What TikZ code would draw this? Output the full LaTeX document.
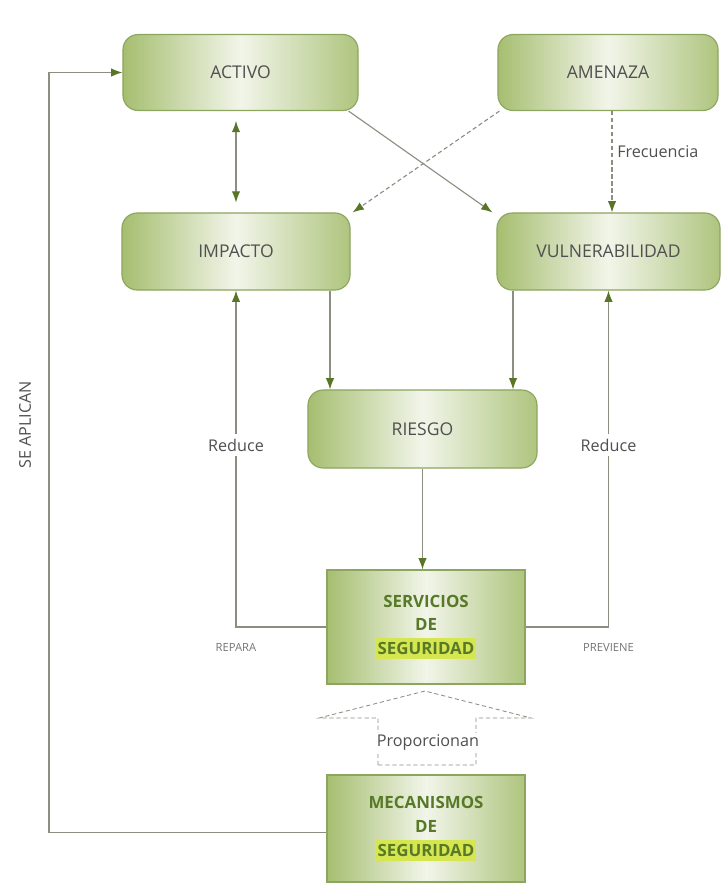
\documentclass[tikz,border=0pt]{standalone}
\usepackage{fontspec}
\setmainfont{Open Sans}
\usepackage{tikz}
\usetikzlibrary{arrows.meta}

\definecolor{boxg}{RGB}{166,190,112}
\definecolor{boxline}{RGB}{140,165,95}
\definecolor{tipg}{RGB}{88,118,38}
\definecolor{lineg}{RGB}{140,142,128}
\definecolor{txtg}{RGB}{80,80,80}
\definecolor{segg}{RGB}{88,122,40}
\definecolor{marca}{RGB}{214,230,80}

\tikzset{
  caja/.style={draw=boxline, line width=0.8pt, rounded corners=0.38cm,
    left color=boxg, right color=boxg!90, middle color=white!85!boxg,
    text=txtg, font=\fontsize{12.5}{15}\selectfont, minimum height=1.9cm},
  servicio/.style={draw=boxline, line width=0.8pt,
    left color=boxg, right color=boxg!90, middle color=white!85!boxg,
    text=segg, font=\fontsize{12}{17}\selectfont\bfseries, align=center,
    minimum width=4.95cm},
  flecha/.style={draw=lineg, line width=0.8pt, -{Latex[length=8pt,width=6pt,color=tipg]}},
  punteada/.style={flecha, densely dashed},
  rotulo/.style={text=txtg, font=\fontsize{11.5}{13}\selectfont},
  chico/.style={text=txtg!80, font=\fontsize{8}{9}\selectfont}
}
\newcommand{\resalta}[1]{\colorbox{marca}{\kern-2pt #1\kern-2pt}}

\begin{document}
\begin{tikzpicture}[x=0.025cm, y=-0.025cm]
    \useasboundingbox (0,0) rectangle (726,890);

    \node[caja, minimum width=5.875cm] (activo) at (240.5,72.5) {ACTIVO};
    \node[caja, minimum width=5.5cm] (amenaza) at (608,72.5) {AMENAZA};
    \node[caja, minimum width=5.7cm, minimum height=1.925cm] (impacto) at (236,251.5) {IMPACTO};
    \node[caja, minimum width=5.575cm, minimum height=1.925cm] (vulner) at (608.5,251.5) {VULNERABILIDAD};
    \node[caja, minimum width=5.725cm, minimum height=1.95cm] (riesgo) at (422.5,429) {RIESGO};
    \node[servicio, minimum height=2.85cm] (servicios) at (426,627)
        {SERVICIOS\\DE\\\resalta{SEGURIDAD}};
    \node[servicio, minimum height=2.675cm] (mecanismos) at (426,828.5)
        {MECANISMOS\\DE\\\resalta{SEGURIDAD}};

    \coordinate (aplica) at (49,450);

    \draw[flecha, {Latex[length=8pt,width=6pt,color=tipg]}-{Latex[length=8pt,width=6pt,color=tipg]}, shorten <=7pt, shorten >=7pt]
        (activo.south -| impacto.north) -- (impacto.north);
    \draw[flecha] ([xshift=-0.25cm]activo.south east) -- ([xshift=-0.1cm]vulner.north west);
    \draw[punteada] ([xshift=0.05cm]amenaza.south west) -- ([xshift=0.05cm]impacto.north east);
    \draw[punteada] ([xshift=0.1cm]amenaza.south) -- node[pos=0.4, right, rotulo]{Frecuencia} ([xshift=0.1cm]amenaza.south |- vulner.north);
    \draw[flecha] (impacto.south -| 330,0) -- (riesgo.north -| 330,0);
    \draw[flecha] (vulner.south -| 513,0) -- (riesgo.north -| 513,0);
    \draw[flecha] (riesgo.south) -- (riesgo.south |- servicios.north);

    \draw[flecha] (servicios.west) -| node[pos=0.77, fill=white, rotulo]{Reduce}
        node[pos=0.5, below=8pt, chico]{REPARA} (impacto.south);
    \draw[flecha] (servicios.east) -| node[pos=0.77, fill=white, rotulo]{Reduce}
        node[pos=0.5, below=8pt, chico]{PREVIENE} (vulner.south);
    \draw[flecha] ([yshift=-0.1cm]mecanismos.west) -| (aplica) |- (activo.west);
    \node[rotulo, rotate=90] (seaplican) at (25,425) {SE APLICAN};

    % flecha hueca de Proporcionan
    \draw[lineg, line width=0.6pt, densely dashed]
        (378,765) -- (378,718) -- (319,718) -- (425,691) -- (531,718)
        -- (476,718) -- (476,765) -- cycle;
    \node[rotulo, fill=white, inner sep=1pt] (proporcionan) at (428,742) {Proporcionan};
  \end{tikzpicture}
\end{document}
